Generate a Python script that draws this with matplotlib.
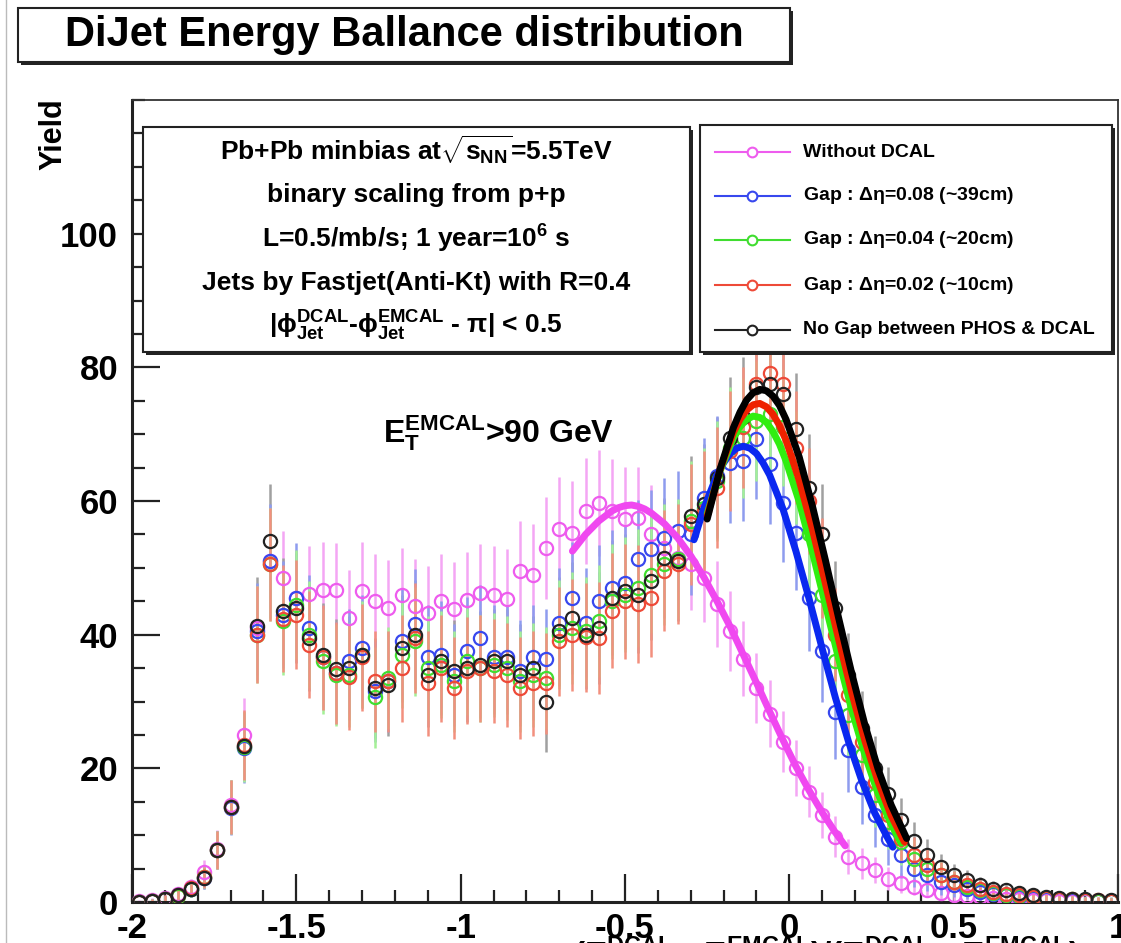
#!/usr/bin/env python3

"""DiJet energy balance distribution, redrawn from the ROOT canvas.
"""

import numpy as np
import matplotlib
matplotlib.use('Agg')
import matplotlib.pyplot as plt
from matplotlib.patches import Rectangle
from matplotlib.lines import Line2D
from matplotlib.ticker import MultipleLocator

plt.rcParams['font.family'] = ['Liberation Sans', 'DejaVu Sans']
plt.rcParams['font.weight'] = 'bold'
plt.rcParams['mathtext.fontset'] = 'custom'
plt.rcParams['mathtext.rm'] = 'Liberation Sans'
plt.rcParams['mathtext.it'] = 'Liberation Sans:italic'
plt.rcParams['mathtext.bf'] = 'Liberation Sans:bold'
plt.rcParams['axes.unicode_minus'] = False

# Histogram binning: 75 bins from -2 to 1.
BIN_LO = -2.0
BIN_HI = 1.0
N_BINS = 75

# Bin contents, one list per histogram.
without_dcal = [0.1, 0.3, 0.6, 1.2, 2.3, 4.5, 8.0, 14.5, 25.0, 41.0,
                51.0, 48.5, 45.5, 46.1, 46.7, 46.7, 42.5, 46.6, 45.0, 44.0,
                46.0, 44.3, 43.3, 45.0, 43.8, 45.2, 46.3, 46.0, 45.4, 49.6,
                49.0, 53.0, 55.8, 55.2, 58.5, 59.7, 58.5, 57.3, 57.5, 55.0,
                53.0, 51.5, 50.5, 48.5, 44.6, 40.5, 36.4, 32.0, 28.2, 24.0,
                20.0, 16.5, 13.0, 9.8, 6.8, 5.8, 4.8, 3.5, 2.8, 2.3,
                1.8, 1.4, 1.1, 0.9, 0.7, 0.6, 0.5, 0.4, 0.3, 0.3,
                0.2, 0.2, 0.2, 0.1, 0.1]
gap_008 = [0.0, 0.2, 0.4, 1.0, 2.0, 3.6, 7.8, 14.0, 23.0, 40.5,
           51.0, 43.0, 45.5, 41.0, 36.6, 34.3, 36.0, 38.0, 31.5, 33.0,
           39.0, 41.6, 36.6, 37.0, 34.0, 37.6, 39.5, 36.6, 36.6, 34.6,
           36.6, 36.3, 41.8, 45.5, 41.8, 45.0, 47.0, 47.8, 51.3, 52.8,
           54.5, 55.5, 55.0, 60.5, 63.7, 65.7, 66.0, 69.3, 65.5, 59.7,
           55.2, 45.5, 37.5, 28.4, 22.7, 17.2, 13.0, 9.5, 7.0, 5.0,
           4.0, 3.0, 2.5, 2.0, 1.5, 1.2, 1.0, 0.8, 0.6, 0.5,
           0.4, 0.3, 0.3, 0.2, 0.2]
gap_004 = [0.0, 0.2, 0.4, 0.9, 2.0, 3.7, 7.8, 14.2, 23.2, 40.0,
           50.5, 42.0, 44.5, 40.0, 36.0, 34.0, 34.0, 37.0, 30.6, 33.5,
           37.0, 39.0, 35.0, 35.5, 33.0, 36.0, 35.0, 35.5, 35.0, 33.0,
           34.0, 33.5, 40.0, 41.0, 40.5, 42.0, 45.0, 46.0, 47.0, 49.0,
           50.5, 51.3, 57.0, 59.0, 63.0, 68.0, 69.4, 72.0, 73.0, 71.0,
           65.0, 55.0, 46.0, 36.0, 28.0, 22.0, 16.0, 12.0, 9.0, 6.5,
           5.0, 4.0, 3.0, 2.2, 1.8, 1.4, 1.1, 0.9, 0.7, 0.6,
           0.5, 0.4, 0.3, 0.2, 0.2]
gap_002 = [0.0, 0.2, 0.5, 1.0, 2.1, 3.7, 7.8, 14.2, 23.5, 40.0,
           50.5, 42.4, 43.0, 38.5, 36.6, 34.3, 33.6, 36.6, 33.0, 33.0,
           35.0, 39.5, 32.7, 35.0, 32.0, 34.6, 35.0, 34.6, 34.0, 32.0,
           32.7, 32.7, 39.0, 40.0, 39.6, 39.5, 43.6, 45.0, 44.6, 45.5,
           49.6, 50.6, 56.5, 58.5, 62.0, 67.5, 71.0, 77.5, 79.2, 77.5,
           68.0, 60.0, 50.0, 40.0, 31.0, 24.0, 18.0, 13.0, 9.5, 7.0,
           5.5, 4.0, 3.0, 2.5, 2.0, 1.5, 1.2, 1.0, 0.8, 0.6,
           0.5, 0.4, 0.3, 0.3, 0.2]
no_gap = [0.0, 0.2, 0.4, 1.0, 2.0, 3.6, 7.8, 14.2, 23.3, 41.3,
          54.0, 43.5, 44.0, 39.5, 37.0, 34.8, 35.0, 37.0, 32.0, 32.5,
          38.0, 40.0, 34.0, 36.0, 34.6, 35.0, 35.5, 36.0, 36.0, 34.0,
          35.0, 30.0, 40.5, 42.5, 40.0, 41.0, 45.5, 46.5, 46.0, 48.0,
          51.5, 51.0, 57.8, 59.5, 63.5, 69.5, 72.5, 77.0, 77.5, 76.0,
          70.7, 62.0, 55.0, 44.0, 34.0, 26.0, 20.0, 16.2, 12.2, 9.2,
          7.0, 5.2, 4.0, 3.3, 2.5, 2.0, 1.8, 1.3, 1.0, 0.8,
          0.6, 0.5, 0.4, 0.3, 0.3]

# Bin errors: one list for the "Without DCAL" histogram, one shared by the gap histograms.
err_without = [0.2, 0.3, 0.5, 0.8, 1.2, 1.8, 2.8, 3.8, 5.5, 6.5,
               7.0, 7.0, 7.2, 7.2, 7.2, 7.0, 7.2, 7.2, 7.0, 7.2,
               7.0, 7.0, 7.0, 7.0, 7.0, 7.2, 7.2, 7.2, 7.4, 7.4,
               7.6, 7.6, 7.8, 7.8, 8.0, 8.0, 7.8, 7.8, 7.6, 7.4,
               7.2, 7.0, 6.8, 6.6, 6.4, 6.0, 5.6, 5.2, 5.0, 4.6,
               4.2, 3.8, 3.4, 3.0, 2.6, 2.3, 2.0, 1.7, 1.5, 1.3,
               1.1, 1.0, 0.9, 0.8, 0.7, 0.6, 0.6, 0.5, 0.5, 0.5,
               0.4, 0.4, 0.4, 0.3, 0.3]
err_gap = [0.2, 0.3, 0.5, 0.8, 1.2, 1.6, 2.8, 4.0, 5.2, 7.3,
           8.5, 8.0, 8.2, 8.0, 7.8, 7.6, 7.8, 8.0, 7.5, 7.6,
           8.0, 8.2, 7.8, 8.0, 7.6, 8.0, 8.0, 7.8, 7.8, 7.6,
           7.8, 7.6, 8.2, 8.4, 8.2, 8.4, 8.6, 8.6, 8.8, 8.8,
           9.0, 9.0, 9.0, 9.0, 9.0, 9.0, 9.0, 9.0, 9.0, 8.8,
           8.5, 8.0, 7.5, 7.0, 6.2, 5.5, 4.8, 4.0, 3.4, 2.8,
           2.4, 2.0, 1.7, 1.5, 1.3, 1.1, 1.0, 0.9, 0.8, 0.7,
           0.6, 0.5, 0.5, 0.4, 0.4]

# Fit curves.
fit_without_x = [-0.66, -0.62, -0.58, -0.54, -0.52, -0.50, -0.48, -0.46, -0.44, -0.42,
                 -0.38, -0.34, -0.30, -0.26, -0.22, -0.18, -0.14, -0.10, -0.06, -0.02,
                 0.02, 0.06, 0.10, 0.14, 0.17]
fit_without_y = [52.5, 55.0, 57.0, 58.5, 59.0, 59.3, 59.4, 59.2, 58.8, 58.2,
                 56.6, 54.5, 51.8, 48.6, 45.0, 41.2, 37.0, 32.8, 28.5, 24.3,
                 20.3, 16.7, 13.4, 10.4, 8.4]
fit_008_x = [-0.29, -0.26, -0.22, -0.20, -0.18, -0.16, -0.14, -0.12, -0.10, -0.08,
             -0.06, -0.02, 0.02, 0.06, 0.10, 0.14, 0.18, 0.22, 0.26, 0.30, 0.315]
fit_008_y = [54.2, 58.9, 63.9, 65.7, 67.1, 67.9, 68.2, 67.9, 67.1, 65.7,
             63.9, 58.9, 52.5, 45.4, 37.9, 30.6, 24.0, 18.2, 13.3, 9.5, 8.2]
fit_004_x = [-0.25, -0.21, -0.17, -0.15, -0.13, -0.11, -0.09, -0.07, -0.05, -0.03,
             -0.01, 0.03, 0.07, 0.11, 0.15, 0.19, 0.23, 0.27, 0.31, 0.34]
fit_004_y = [58.1, 64.6, 69.5, 71.1, 72.2, 72.7, 72.5, 71.8, 70.4, 68.5,
             66.0, 59.9, 52.4, 44.4, 36.4, 28.7, 22.0, 16.2, 11.6, 8.8]
fit_002_x = [-0.25, -0.21, -0.17, -0.15, -0.13, -0.11, -0.09, -0.07, -0.05, -0.03,
             -0.01, 0.03, 0.07, 0.11, 0.15, 0.19, 0.23, 0.27, 0.31, 0.35]
fit_002_y = [57.7, 64.8, 70.3, 72.2, 73.6, 74.4, 74.6, 74.1, 73.0, 71.3,
             69.1, 63.1, 55.8, 47.6, 39.3, 31.3, 24.1, 18.0, 12.9, 9.0]
fit_nogap_x = [-0.25, -0.21, -0.17, -0.15, -0.13, -0.11, -0.09, -0.07, -0.05, -0.03,
               -0.01, 0.03, 0.07, 0.11, 0.15, 0.19, 0.23, 0.27, 0.31, 0.357]
fit_nogap_y = [57.3, 64.9, 71.0, 73.3, 75.1, 76.2, 76.7, 76.5, 75.7, 74.3,
               72.2, 66.6, 59.3, 51.1, 42.5, 34.2, 26.5, 19.9, 14.5, 9.5]

legend_labels = ['Without DCAL',
                 r'Gap : $\mathrm{\Delta\eta}$=0.08 (~39cm)',
                 r'Gap : $\mathrm{\Delta\eta}$=0.04 (~20cm)',
                 r'Gap : $\mathrm{\Delta\eta}$=0.02 (~10cm)',
                 'No Gap between PHOS & DCAL']

info_lines = [r'Pb+Pb minbias at$\sqrt{\mathbf{s}_{\mathbf{NN}}}$=5.5TeV',
              'binary scaling from p+p',
              r'L=0.5/mb/s; 1 year=10$^{\mathbf{6}}$ s',
              'Jets by Fastjet(Anti-Kt) with R=0.4',
              r'|$\mathrm{\phi}_{\mathbf{Jet}}^{\mathrm{DCAL}}$-$\mathrm{\phi}_{\mathbf{Jet}}^{\mathrm{EMCAL}}$ - $\mathrm{\pi}$| < 0.5']

# Colours: marker, error bar, fit line.
marker_colors = ['#ee5cee', '#3848ee', '#40dd30', '#ee4a38', '#222222']
bar_colors    = ['#f4a6f4', '#8e9cee', '#a4f096', '#f2907e', '#a0a0a0']
fit_colors    = ['#f048f0', '#0a28f0', '#30ee10', '#ee2200', '#000000']

W, H = 1121, 943
fig = plt.figure(figsize=(W / 100, H / 100), dpi=100)

def fx(px):
	return px / W

def fy(py):
	return 1 - py / H

ax = fig.add_axes([fx(132), fy(902), fx(1118) - fx(132), fy(100) - fy(902)])

bin_w = (BIN_HI - BIN_LO) / N_BINS
centers = BIN_LO + (np.arange(N_BINS) + 0.5) * bin_w

hists = [without_dcal, gap_008, gap_004, gap_002, no_gap]
errs = [err_without, err_gap, err_gap, err_gap, err_gap]
fits = [(fit_without_x, fit_without_y), (fit_008_x, fit_008_y), (fit_004_x, fit_004_y),
        (fit_002_x, fit_002_y), (fit_nogap_x, fit_nogap_y)]

# Error bars: red ones end up on top, as in the original canvas.
for k in [0, 4, 1, 2, 3]:
	ax.errorbar(centers, hists[k], yerr=errs[k], fmt='none', ecolor=bar_colors[k], elinewidth=1.8, zorder=2)
for vals, mc in zip(hists, marker_colors):
	ax.plot(centers, vals, 'o', ms=9.5, mfc='none', mec=mc, mew=1.6, zorder=3)
for (fxs, fys), fc in zip(fits, fit_colors):
	ax.plot(fxs, fys, '-', color=fc, lw=5, solid_capstyle='round', solid_joinstyle='round', zorder=4)

ax.set_xlim(BIN_LO, BIN_HI)
ax.set_ylim(0, 120)
ax.xaxis.set_major_locator(MultipleLocator(0.5))
ax.xaxis.set_minor_locator(MultipleLocator(0.1))
ax.yaxis.set_major_locator(MultipleLocator(20))
ax.yaxis.set_minor_locator(MultipleLocator(5))
ax.set_yticks([0, 20, 40, 60, 80, 100])
ax.xaxis.set_major_formatter(plt.FuncFormatter(lambda v, p: ('%g' % v)))
ax.tick_params(which='both', direction='in', top=False, right=False, labelsize=25, width=1.6, color='#222222')
ax.tick_params(which='major', length=20)
ax.tick_params(which='minor', length=9)
ax.tick_params(axis='y', pad=10)
ax.tick_params(axis='x', pad=7)
for lbl in ax.get_xticklabels() + ax.get_yticklabels():
	lbl.set_fontweight('bold')
for side in ['left', 'bottom']:
	ax.spines[side].set_linewidth(2.2)
	ax.spines[side].set_color('#222222')
for side in ['top', 'right']:
	ax.spines[side].set_linewidth(1.3)
	ax.spines[side].set_color('#333333')

ax.text(-1.235, 68.8, r'$\mathbf{E}_{\mathbf{T}}^{\mathbf{EMCAL}}$>90 GeV', fontsize=23,
        fontweight='bold', ha='left', va='baseline', zorder=5)

def boxed(x0, y0, x1, y1, shadow=3, lw=1.5):
	"""Draw a white box with a ROOT-like drop shadow, in pixel coordinates."""
	fig.add_artist(Rectangle((fx(x0 + shadow), fy(y1 + shadow)), fx(x1 - x0), fy(y0) - fy(y1),
	                         transform=fig.transFigure, facecolor='#222222', edgecolor='none', zorder=5))
	fig.add_artist(Rectangle((fx(x0), fy(y1)), fx(x1 - x0), fy(y0) - fy(y1),
	                         transform=fig.transFigure, facecolor='white', edgecolor='#222222', lw=lw, zorder=6))

# Canvas edge line on the left.
fig.add_artist(Line2D([fx(6), fx(6)], [0, 1], transform=fig.transFigure, color='#bbbbbb', lw=1))

# Title.
boxed(18, 8, 790, 62)
fig.text(fx(404), fy(35), 'DiJet Energy Ballance distribution', fontsize=30, fontweight='bold',
         ha='center', va='center', zorder=7)

# Y axis title.
fig.text(fx(53), fy(98), 'Yield', fontsize=22, fontweight='bold', rotation=90,
         ha='center', va='top', zorder=7)

# Info box.
boxed(143, 127, 690, 352)
for line, py in zip(info_lines, [150, 195, 239, 283, 326]):
	fig.text(fx(416), fy(py), line, fontsize=19, fontweight='bold', ha='center', va='center', zorder=7)

# Legend.
boxed(700, 125, 1112, 352)
for lbl, mc, py in zip(legend_labels, marker_colors, [152, 196, 240, 285, 330]):
	fig.add_artist(Line2D([fx(715), fx(790)], [fy(py), fy(py)], transform=fig.transFigure,
	                      color=mc, lw=1.5, zorder=7))
	fig.add_artist(Line2D([fx(752)], [fy(py)], transform=fig.transFigure, marker='o', ms=7,
	                      mfc='white', mec=mc, mew=1.5, zorder=8))
	fig.text(fx(803), fy(py), lbl, fontsize=14, fontweight='bold', ha='left', va='center', zorder=7)

# X axis title, almost entirely below the canvas edge.
fig.text(fx(1080), fy(935), r'$\mathbf{(E_{T}^{DCAL}-E_{T}^{EMCAL})/(E_{T}^{DCAL}+E_{T}^{EMCAL})}$',
         fontsize=24, ha='right', va='top', zorder=1)

fig.savefig('out.png', dpi=100)
